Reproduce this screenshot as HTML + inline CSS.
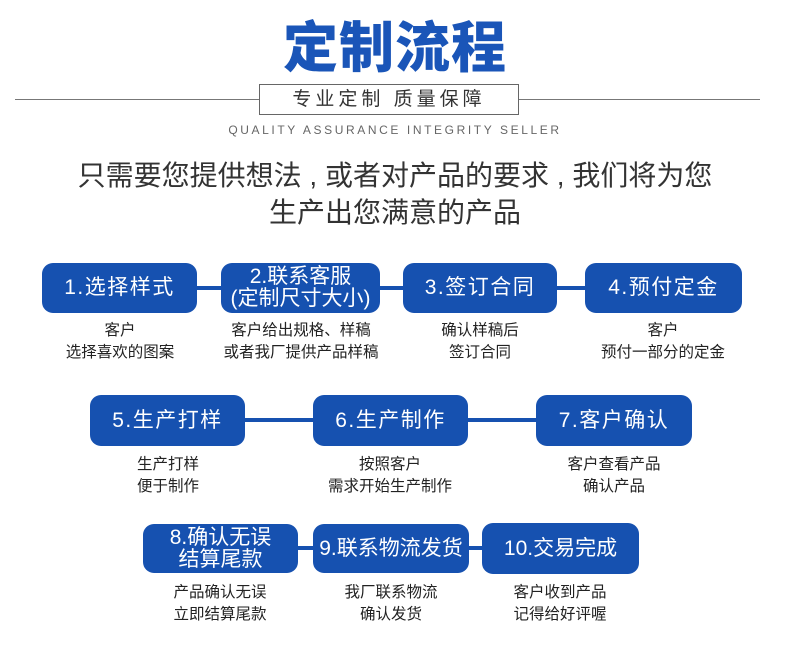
<!DOCTYPE html>
<html><head><meta charset="utf-8"><style>
body{margin:0;width:790px;height:669px;background:#fff;position:relative;overflow:hidden;font-family:"Liberation Sans","Noto Sans CJK SC",sans-serif;}
.a{position:absolute;}
.t{left:0;width:790px;text-align:center;}
.b{position:absolute;background:#1651b0;border-radius:11px;color:#fff;display:flex;align-items:center;justify-content:center;text-align:center;font-size:21px;line-height:22px;letter-spacing:1.5px;}
.l{position:absolute;background:#1651b0;height:4px;}
.d{position:absolute;text-align:center;font-size:15.5px;line-height:22px;color:#222;width:240px;}
</style></head><body>
<div class="a t" style="top:12px;font-size:55px;font-weight:900;color:#1a55b8;line-height:72px;letter-spacing:1px;">定制流程</div>
<div class="a" style="left:15px;top:99px;width:745px;height:1px;background:#777;"></div>
<div class="a" style="left:259px;top:84px;width:258px;height:29px;border:1px solid #666;background:#fff;text-align:center;font-size:19px;line-height:29px;color:#333;letter-spacing:4px;">专业定制 质量保障</div>
<div class="a t" style="top:122px;font-size:12px;color:#666;letter-spacing:2.6px;line-height:16px;">QUALITY ASSURANCE INTEGRITY SELLER</div>
<div class="a t" style="top:158px;font-size:28px;color:#333;line-height:36px;">只需要您提供想法 , 或者对产品的要求 , 我们将为您</div>
<div class="a t" style="top:195px;font-size:28px;color:#333;line-height:36px;">生产出您满意的产品</div>

<div class="l" style="left:190px;top:286px;width:400px;"></div>
<div class="b" style="left:42px;top:263px;width:155px;height:50px;">1.选择样式</div>
<div class="b" style="left:221px;top:263px;width:159px;height:50px;letter-spacing:0;">2.联系客服<br>(定制尺寸大小)</div>
<div class="b" style="left:403px;top:263px;width:154px;height:50px;">3.签订合同</div>
<div class="b" style="left:585px;top:263px;width:157px;height:50px;">4.预付定金</div>
<div class="d" style="left:0px;top:320px;">客户<br>选择喜欢的图案</div>
<div class="d" style="left:181px;top:320px;">客户给出规格、样稿<br>或者我厂提供产品样稿</div>
<div class="d" style="left:360px;top:320px;">确认样稿后<br>签订合同</div>
<div class="d" style="left:543px;top:320px;">客户<br>预付一部分的定金</div>

<div class="l" style="left:240px;top:418px;width:300px;"></div>
<div class="b" style="left:90px;top:395px;width:155px;height:51px;">5.生产打样</div>
<div class="b" style="left:313px;top:395px;width:155px;height:51px;">6.生产制作</div>
<div class="b" style="left:536px;top:395px;width:156px;height:51px;">7.客户确认</div>
<div class="d" style="left:48px;top:454px;">生产打样<br>便于制作</div>
<div class="d" style="left:270px;top:454px;">按照客户<br>需求开始生产制作</div>
<div class="d" style="left:494px;top:454px;">客户查看产品<br>确认产品</div>

<div class="l" style="left:290px;top:546px;width:200px;"></div>
<div class="b" style="left:143px;top:524px;width:155px;height:49px;letter-spacing:0;">8.确认无误<br>结算尾款</div>
<div class="b" style="left:313px;top:524px;width:156px;height:49px;letter-spacing:0;">9.联系物流发货</div>
<div class="b" style="left:482px;top:523px;width:157px;height:51px;letter-spacing:0;">10.交易完成</div>
<div class="d" style="left:100px;top:582px;">产品确认无误<br>立即结算尾款</div>
<div class="d" style="left:271px;top:582px;">我厂联系物流<br>确认发货</div>
<div class="d" style="left:440px;top:582px;">客户收到产品<br>记得给好评喔</div>
</body></html>
